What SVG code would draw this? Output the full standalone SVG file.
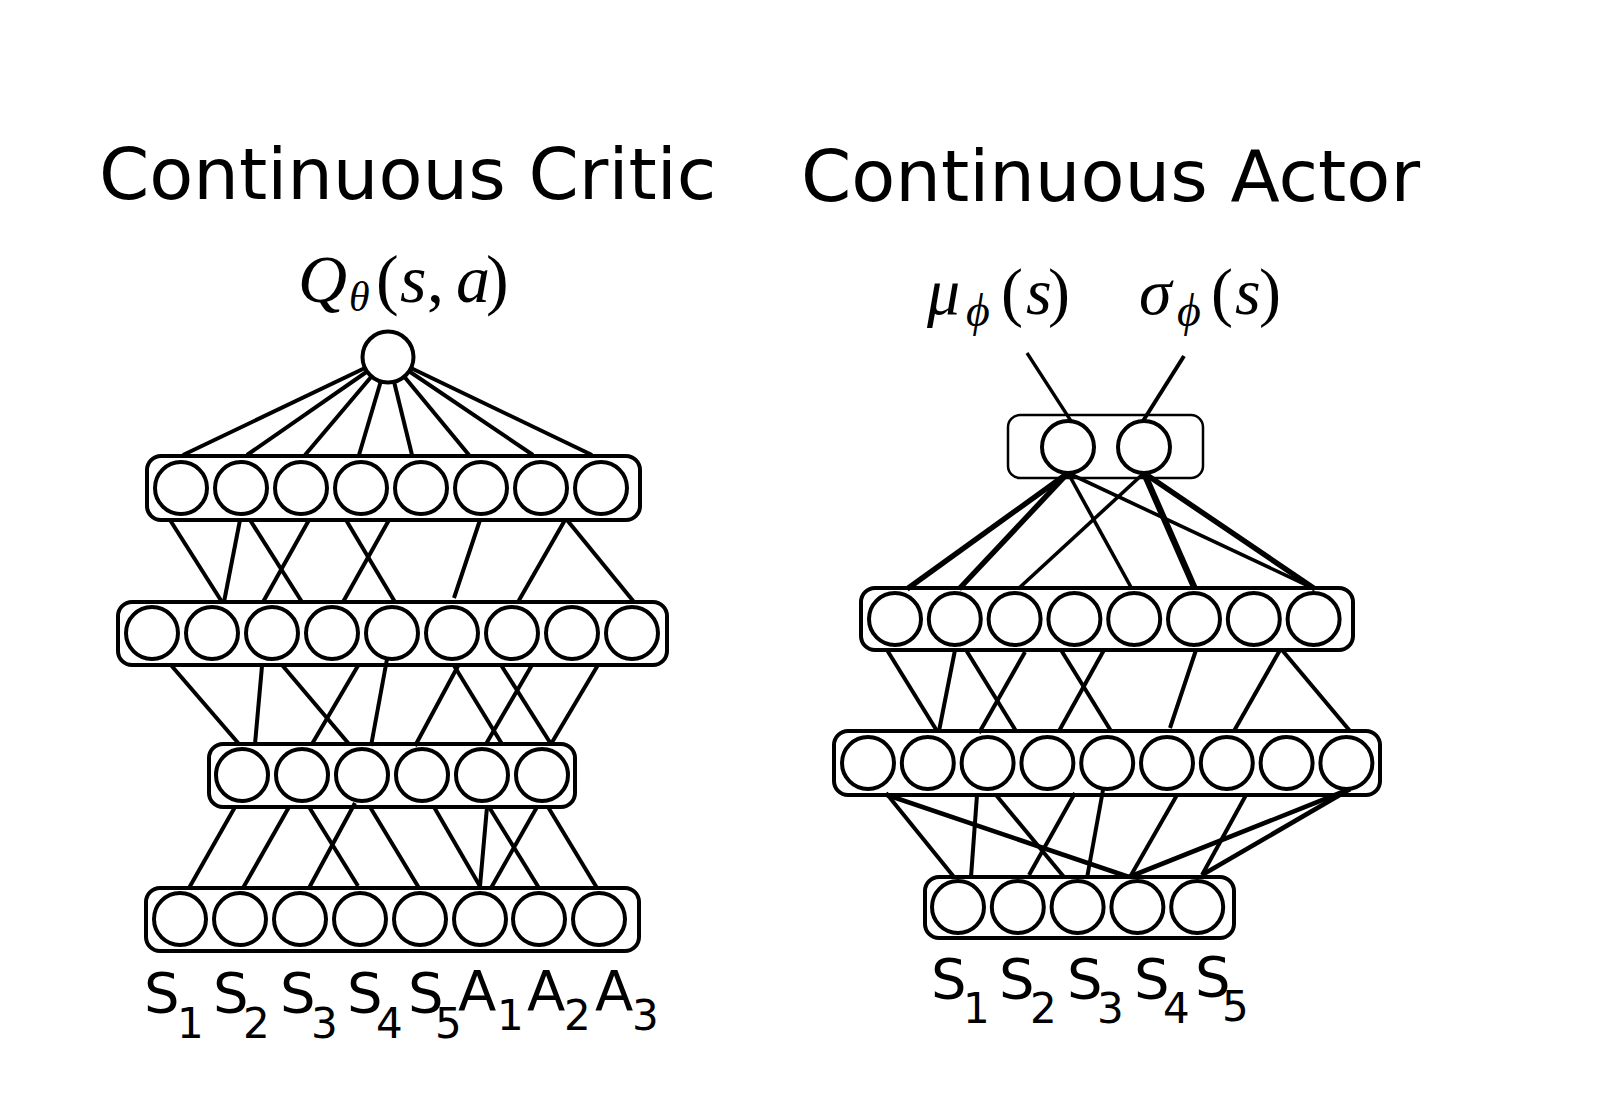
<svg xmlns="http://www.w3.org/2000/svg" width="1616" height="1104" viewBox="0 0 1616 1104">
<style>
.node{fill:#fff;stroke:#000;stroke-width:4}
.box{fill:none;stroke:#000;stroke-width:4}
.thinbox{fill:none;stroke:#000;stroke-width:2.5}
.edge{stroke:#000;stroke-width:4;fill:none}
.w3{stroke-width:3.3}
.w35{stroke-width:3.6}
.w45{stroke-width:4.6}
.w5{stroke-width:5.4}
.w6{stroke-width:6.4}
.title{font-family:"DejaVu Sans","Liberation Sans",sans-serif;font-size:72px;fill:#000}
.lab{font-family:"DejaVu Sans","Liberation Sans",sans-serif;font-size:56px;fill:#000}
.sub{font-size:42px}
.math{font-family:"Liberation Serif","DejaVu Serif",serif;fill:#000}
.it{font-style:italic}
</style>
<rect width="1616" height="1104" fill="#fff"/>

<g id="titles">
<text class="title" x="99" y="199">Continuous Critic</text>
<text class="title" x="801" y="201">Continuous Actor</text>
</g>

<g id="connectors">
<!-- critic: output to layer 1 -->
<line class="edge" x1="388" y1="357" x2="183" y2="455"/>
<line class="edge" x1="388" y1="357" x2="247" y2="455"/>
<line class="edge" x1="388" y1="357" x2="305" y2="455"/>
<line class="edge" x1="388" y1="357" x2="359" y2="455"/>
<line class="edge" x1="388" y1="357" x2="412" y2="455"/>
<line class="edge" x1="388" y1="357" x2="469" y2="455"/>
<line class="edge" x1="388" y1="357" x2="533" y2="455"/>
<line class="edge" x1="388" y1="357" x2="592" y2="455"/>
<!-- critic: layer 1 to layer 2 -->
<line class="edge" x1="170" y1="520" x2="222" y2="602"/>
<line class="edge" x1="240" y1="520" x2="224" y2="602"/>
<line class="edge" x1="250" y1="520" x2="302" y2="602"/>
<line class="edge" x1="309" y1="520" x2="263" y2="602"/>
<line class="edge" x1="346" y1="520" x2="395" y2="602"/>
<line class="edge" x1="389" y1="520" x2="343" y2="602"/>
<line class="edge" x1="480" y1="520" x2="454" y2="598"/>
<line class="edge" x1="565" y1="520" x2="518" y2="602"/>
<line class="edge" x1="567" y1="520" x2="634" y2="602"/>
<!-- critic: layer 2 to layer 3 -->
<line class="edge" x1="170" y1="664" x2="239" y2="744"/>
<line class="edge" x1="262" y1="666" x2="255" y2="744"/>
<line class="edge" x1="282" y1="665" x2="349" y2="744"/>
<line class="edge" x1="359" y1="664" x2="312" y2="744"/>
<line class="edge" x1="387" y1="659" x2="371" y2="746"/>
<line class="edge" x1="458" y1="666" x2="415" y2="746"/>
<line class="edge" x1="453" y1="664" x2="502" y2="744"/>
<line class="edge" x1="532" y1="665" x2="486" y2="744"/>
<line class="edge" x1="501" y1="665" x2="551" y2="744"/>
<line class="edge" x1="598" y1="665" x2="551" y2="744"/>
<!-- critic: layer 3 to input -->
<line class="edge" x1="235" y1="807" x2="189" y2="888"/>
<line class="edge" x1="289" y1="807" x2="243" y2="888"/>
<line class="edge" x1="309" y1="807" x2="358" y2="886"/>
<line class="edge" x1="355" y1="803" x2="309" y2="888"/>
<line class="edge" x1="370" y1="807" x2="419" y2="888"/>
<line class="edge" x1="434" y1="807" x2="481" y2="888"/>
<line class="edge" x1="487" y1="807" x2="480" y2="886"/>
<line class="edge" x1="489" y1="807" x2="539" y2="888"/>
<line class="edge" x1="537" y1="807" x2="491" y2="888"/>
<line class="edge" x1="548" y1="807" x2="597" y2="888"/>

<!-- actor: outputs -->
<line class="edge w3" x1="1027" y1="353" x2="1071" y2="421"/>
<line class="edge" x1="1184" y1="356" x2="1143" y2="421"/>
<!-- actor: output nodes to layer 1 -->
<line class="edge w5" x1="1068" y1="473" x2="907" y2="589"/>
<line class="edge w5" x1="1068" y1="473" x2="959" y2="589"/>
<line class="edge w35" x1="1068" y1="473" x2="1132" y2="589"/>
<line class="edge w35" x1="1068" y1="473" x2="1315" y2="589"/>
<line class="edge w35" x1="1144" y1="473" x2="1018" y2="589"/>
<line class="edge w6" x1="1144" y1="473" x2="1195" y2="589"/>
<line class="edge w5" x1="1144" y1="473" x2="1315" y2="589"/>
<!-- actor: layer 1 to layer 2 -->
<line class="edge" x1="887" y1="650" x2="937" y2="731"/>
<line class="edge" x1="955" y1="650" x2="939" y2="731"/>
<line class="edge" x1="966" y1="650" x2="1016" y2="731"/>
<line class="edge" x1="1025" y1="652" x2="979" y2="733"/>
<line class="edge" x1="1061" y1="650" x2="1111" y2="731"/>
<line class="edge" x1="1104" y1="650" x2="1059" y2="731"/>
<line class="edge" x1="1196" y1="650" x2="1170" y2="728"/>
<line class="edge" x1="1280" y1="650" x2="1234" y2="731"/>
<line class="edge" x1="1282" y1="650" x2="1350" y2="731"/>
<!-- actor: layer 2 to input -->
<line class="edge" x1="886" y1="793" x2="954" y2="877"/>
<line class="edge w45" x1="887" y1="795" x2="1129" y2="877"/>
<line class="edge" x1="977" y1="795" x2="971" y2="877"/>
<line class="edge" x1="996" y1="795" x2="1064" y2="877"/>
<line class="edge" x1="1075" y1="793" x2="1029" y2="875"/>
<line class="edge" x1="1103" y1="790" x2="1087" y2="878"/>
<line class="edge" x1="1177" y1="795" x2="1130" y2="877"/>
<line class="edge" x1="1246" y1="795" x2="1202" y2="875"/>
<line class="edge w45" x1="1350" y1="789" x2="1129" y2="877"/>
<line class="edge w45" x1="1350" y1="789" x2="1202" y2="875"/>
</g>

<!-- ===== Critic ===== -->
<g id="critic-output">
<circle id="critic-q" class="node" cx="388" cy="357" r="25.5"/>
</g>
<g id="critic-layer1">
<rect class="box" x="147" y="456" width="493" height="64" rx="14"/>
<circle class="node" cx="181" cy="488" r="26"/>
<circle class="node" cx="241" cy="488" r="26"/>
<circle class="node" cx="301" cy="488" r="26"/>
<circle class="node" cx="361" cy="488" r="26"/>
<circle class="node" cx="421" cy="488" r="26"/>
<circle class="node" cx="481" cy="488" r="26"/>
<circle class="node" cx="541" cy="488" r="26"/>
<circle class="node" cx="601" cy="488" r="26"/>
</g>
<g id="critic-layer2">
<rect class="box" x="118" y="602" width="549" height="63" rx="14"/>
<circle class="node" cx="152" cy="633" r="26"/>
<circle class="node" cx="212" cy="633" r="26"/>
<circle class="node" cx="272" cy="633" r="26"/>
<circle class="node" cx="332" cy="633" r="26"/>
<circle class="node" cx="392" cy="633" r="26"/>
<circle class="node" cx="452" cy="633" r="26"/>
<circle class="node" cx="512" cy="633" r="26"/>
<circle class="node" cx="572" cy="633" r="26"/>
<circle class="node" cx="632" cy="633" r="26"/>
</g>
<g id="critic-layer3">
<rect class="box" x="209" y="744" width="366" height="63" rx="14"/>
<circle class="node" cx="242" cy="775" r="26"/>
<circle class="node" cx="302" cy="775" r="26"/>
<circle class="node" cx="362" cy="775" r="26"/>
<circle class="node" cx="422" cy="775" r="26"/>
<circle class="node" cx="482" cy="775" r="26"/>
<circle class="node" cx="542" cy="775" r="26"/>
</g>
<g id="critic-input">
<rect class="box" x="146" y="888" width="493" height="63" rx="14"/>
<circle class="node" cx="180" cy="919" r="26"/>
<circle class="node" cx="240" cy="919" r="26"/>
<circle class="node" cx="300" cy="919" r="26"/>
<circle class="node" cx="360" cy="919" r="26"/>
<circle class="node" cx="420" cy="919" r="26"/>
<circle class="node" cx="480" cy="919" r="26"/>
<circle class="node" cx="539" cy="919" r="26"/>
<circle class="node" cx="599" cy="919" r="26"/>
</g>

<!-- ===== Actor ===== -->
<g id="actor-output">
<rect class="thinbox" x="1008" y="415" width="195" height="63" rx="12"/>
<circle id="actor-mu" class="node" cx="1068" cy="447" r="26"/>
<circle id="actor-sigma" class="node" cx="1144" cy="447" r="26"/>
</g>
<g id="actor-layer1">
<rect class="box" x="861" y="588" width="492" height="62" rx="14"/>
<circle class="node" cx="895" cy="619" r="26"/>
<circle class="node" cx="954.8" cy="619" r="26"/>
<circle class="node" cx="1014.6" cy="619" r="26"/>
<circle class="node" cx="1074.4" cy="619" r="26"/>
<circle class="node" cx="1134.2" cy="619" r="26"/>
<circle class="node" cx="1194" cy="619" r="26"/>
<circle class="node" cx="1253.8" cy="619" r="26"/>
<circle class="node" cx="1313.6" cy="619" r="26"/>
</g>
<g id="actor-layer2">
<rect class="box" x="834" y="731" width="546" height="64" rx="14"/>
<circle class="node" cx="868" cy="763" r="26"/>
<circle class="node" cx="927.8" cy="763" r="26"/>
<circle class="node" cx="987.6" cy="763" r="26"/>
<circle class="node" cx="1047.4" cy="763" r="26"/>
<circle class="node" cx="1107.2" cy="763" r="26"/>
<circle class="node" cx="1167" cy="763" r="26"/>
<circle class="node" cx="1226.8" cy="763" r="26"/>
<circle class="node" cx="1286.6" cy="763" r="26"/>
<circle class="node" cx="1346.4" cy="763" r="26"/>
</g>
<g id="actor-input">
<rect class="box" x="925" y="877" width="309" height="61" rx="14"/>
<circle class="node" cx="958" cy="907" r="26"/>
<circle class="node" cx="1017.8" cy="907" r="26"/>
<circle class="node" cx="1077.6" cy="907" r="26"/>
<circle class="node" cx="1137.4" cy="907" r="26"/>
<circle class="node" cx="1197.2" cy="907" r="26"/>
</g>

<!-- ===== Math labels ===== -->
<g id="critic-output-label">
<text class="math" font-size="68"><tspan class="it" x="298" y="302">Q</tspan><tspan class="it" x="349" y="311" font-size="42">θ</tspan><tspan x="376" y="302">(</tspan><tspan class="it" x="400" y="302">s</tspan><tspan x="427" y="302">,</tspan><tspan class="it" x="456" y="302">a</tspan><tspan x="486" y="302">)</tspan></text>
</g>
<g id="actor-output-labels">
<text class="math" font-size="66"><tspan class="it" x="927" y="314">μ</tspan><tspan class="it" x="966" y="326" font-size="46">ϕ</tspan><tspan x="1001" y="314">(</tspan><tspan class="it" x="1026" y="314">s</tspan><tspan x="1048" y="314">)</tspan></text>
<text class="math" font-size="66"><tspan class="it" x="1139" y="314">σ</tspan><tspan class="it" x="1177" y="326" font-size="46">ϕ</tspan><tspan x="1211" y="314">(</tspan><tspan class="it" x="1235" y="314">s</tspan><tspan x="1259" y="314">)</tspan></text>
</g>

<!-- ===== Input labels ===== -->
<g id="critic-input-labels">
<text class="lab"><tspan x="144" y="1012">S</tspan><tspan class="sub" x="177" y="1038">1</tspan></text>
<text class="lab"><tspan x="213" y="1012">S</tspan><tspan class="sub" x="243" y="1038">2</tspan></text>
<text class="lab"><tspan x="280" y="1012">S</tspan><tspan class="sub" x="311" y="1038">3</tspan></text>
<text class="lab"><tspan x="347" y="1012">S</tspan><tspan class="sub" x="376" y="1038">4</tspan></text>
<text class="lab"><tspan x="408" y="1012">S</tspan><tspan class="sub" x="435" y="1038">5</tspan></text>
<text class="lab"><tspan x="458" y="1010">A</tspan><tspan class="sub" x="497" y="1030">1</tspan></text>
<text class="lab"><tspan x="527" y="1010">A</tspan><tspan class="sub" x="564" y="1030">2</tspan></text>
<text class="lab"><tspan x="595" y="1010">A</tspan><tspan class="sub" x="632" y="1030">3</tspan></text>
</g>
<g id="actor-input-labels">
<text class="lab"><tspan x="931" y="998">S</tspan><tspan class="sub" x="963" y="1023">1</tspan></text>
<text class="lab"><tspan x="999" y="998">S</tspan><tspan class="sub" x="1030" y="1023">2</tspan></text>
<text class="lab"><tspan x="1067" y="998">S</tspan><tspan class="sub" x="1097" y="1023">3</tspan></text>
<text class="lab"><tspan x="1134" y="998">S</tspan><tspan class="sub" x="1163" y="1023">4</tspan></text>
<text class="lab"><tspan x="1195" y="996">S</tspan><tspan class="sub" x="1222" y="1021">5</tspan></text>
</g>
</svg>
